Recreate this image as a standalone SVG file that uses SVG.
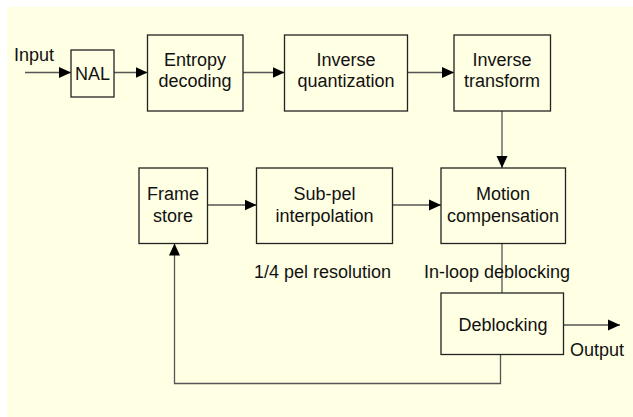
<svg xmlns="http://www.w3.org/2000/svg" width="633" height="417" viewBox="0 0 633 417">
<defs>
<style>
.box{fill:#FFFFE3;stroke:#222;stroke-width:1.3}
.t{font-family:"Liberation Sans",Arial,sans-serif;font-size:18px;fill:#111;text-anchor:middle}
.l{font-family:"Liberation Sans",Arial,sans-serif;font-size:18px;fill:#111}
.c{fill:none;stroke:#555;stroke-width:1.3}
</style>
<marker id="ah" viewBox="0 0 12 12" refX="12" refY="6" markerWidth="12" markerHeight="12" markerUnits="userSpaceOnUse" orient="auto">
<path d="M0,0.5 L12,6 L0,11.5 Z" fill="#000"/>
</marker>
</defs>
<rect x="0" y="0" width="633" height="417" fill="#fff"/>
<rect x="7" y="7" width="626" height="410" fill="#FFFFE3"/>
<g id="connectors">
<path class="c" d="M25,72.5 H71" marker-end="url(#ah)"/>
<path class="c" d="M114,72.5 H147.5" marker-end="url(#ah)"/>
<path class="c" d="M243,72.5 H284.5" marker-end="url(#ah)"/>
<path class="c" d="M407.5,72.5 H454" marker-end="url(#ah)"/>
<path class="c" d="M502,111 V168" marker-end="url(#ah)"/>
<path class="c" d="M207.5,205 H256.5" marker-end="url(#ah)"/>
<path class="c" d="M392.5,205 H441" marker-end="url(#ah)"/>
<path class="c" d="M502,243.5 V293"/>
<path class="c" d="M563.5,325 H620" marker-end="url(#ah)"/>
<path class="c" d="M500.5,354.5 V383.5 H174.5 V243.5" marker-end="url(#ah)"/>
</g>
<text class="l" x="14" y="61">Input</text>
<g id="nal"><rect class="box" x="71" y="50" width="43" height="47"/><text class="t" x="92.5" y="80">NAL</text></g>
<g id="entropy"><rect class="box" x="147.5" y="35" width="95.5" height="76"/><text class="t" x="195" y="66">Entropy</text><text class="t" x="195" y="87">decoding</text></g>
<g id="invquant"><rect class="box" x="284.5" y="35" width="123" height="76"/><text class="t" x="346" y="66">Inverse</text><text class="t" x="346" y="87">quantization</text></g>
<g id="invtrans"><rect class="box" x="454" y="35" width="96.5" height="76"/><text class="t" x="502" y="66">Inverse</text><text class="t" x="502" y="87">transform</text></g>
<g id="framestore"><rect class="box" x="139" y="168" width="68.5" height="75.5"/><text class="t" x="173" y="200">Frame</text><text class="t" x="173" y="222">store</text></g>
<g id="subpel"><rect class="box" x="256.5" y="168" width="136" height="75.5"/><text class="t" x="324.5" y="200">Sub-pel</text><text class="t" x="324.5" y="222">interpolation</text></g>
<g id="motion"><rect class="box" x="441" y="168" width="124.5" height="75.5"/><text class="t" x="503" y="200">Motion</text><text class="t" x="503" y="222">compensation</text></g>
<g id="deblocking"><rect class="box" x="441" y="293" width="122.5" height="61.5"/><text class="t" x="503" y="331">Deblocking</text></g>
<text class="l" x="254" y="278">1/4 pel resolution</text>
<text class="l" x="424" y="278">In-loop deblocking</text>
<text class="l" x="570" y="356">Output</text>
</svg>
